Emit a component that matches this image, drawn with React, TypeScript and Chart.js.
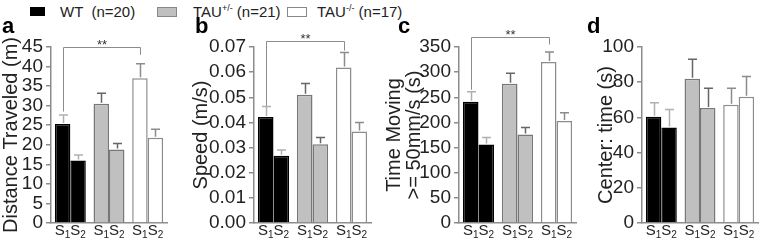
import React, { useEffect, useRef } from "react";
import { Chart, registerables } from "chart.js";
Chart.register(...registerables);

const FONT = "'Liberation Sans', Arial, Helvetica, sans-serif";

// ---- data ----
const groups = ["WT", "TAU+/-", "TAU-/-"];
const sessionSubs = ["1", "2"];

const distS1 = [25.3, 30.5, 37.0];
const distS2 = [16.0, 18.8, 21.8];
const distErrS1 = [2.3, 2.7, 3.7];
const distErrS2 = [1.4, 1.5, 2.2];

const speedS1 = [0.0422, 0.051, 0.0618];
const speedS2 = [0.0267, 0.0313, 0.0364];
const speedErrS1 = [0.0041, 0.0045, 0.006];
const speedErrS2 = [0.0023, 0.0027, 0.0036];

const timeS1 = [241, 277, 320];
const timeS2 = [156, 176, 203];
const timeErrS1 = [20, 21, 20];
const timeErrS2 = [14, 14, 16];

const centerS1 = [60.3, 82.0, 67.2];
const centerS2 = [54.3, 65.3, 71.7];
const centerErrS1 = [8.0, 11.0, 9.3];
const centerErrS2 = [10.2, 11.2, 11.6];

// significance brackets (data units: top line, left foot, right foot)
const distBracket = [45.1, 28.5, 43.0];
const speedBracket = [0.0725, 0.0466, 0.0686];
const timeBracket = [370, 265, 355];

const fillColors = ["#000000", "#c0c0c0", "#ffffff"];
const borderColors = ["#000000", "#777777", "#8c8c8c"];
const errColors = ["#b0b0b0", "#666666", "#8c8c8c"];

type PanelCfg = {
  left: number;
  axisX: number;
  plotRight: number;
  max: number;
  step: number;
  dec: number;
  title: string | string[];
  titlePad: number;
  s1: number[];
  s2: number[];
  e1: number[];
  e2: number[];
  bracket: number[] | null;
};

const panels: PanelCfg[] = [
  { left: 0, axisX: 51, plotRight: 167, max: 45, step: 5, dec: 0, title: "Distance Traveled (m)", titlePad: 1, s1: distS1, s2: distS2, e1: distErrS1, e2: distErrS2, bracket: distBracket },
  { left: 185, axisX: 254, plotRight: 371, max: 0.07, step: 0.01, dec: 2, title: "Speed (m/s)", titlePad: 6, s1: speedS1, s2: speedS2, e1: speedErrS1, e2: speedErrS2, bracket: speedBracket },
  { left: 375, axisX: 459, plotRight: 576, max: 350, step: 50, dec: 0, title: ["Time Moving", ">= 50mm/s (s)"], titlePad: 9, s1: timeS1, s2: timeS2, e1: timeErrS1, e2: timeErrS2, bracket: timeBracket },
  { left: 585, axisX: 642, plotRight: 758, max: 100, step: 20, dec: 0, title: "Center: time (s)", titlePad: 11, s1: centerS1, s2: centerS2, e1: centerErrS1, e2: centerErrS2, bracket: null },
];

const overlayPlugin = {
  id: "overlay",
  afterDatasetsDraw(chart: any, _args: any, opts: any) {
    const ctx = chart.ctx as CanvasRenderingContext2D;
    const ys = chart.scales.y;
    const xs = chart.scales.x;
    const errs: number[][] = opts.errors;
    ctx.save();
    // error bars
    chart.data.datasets.forEach((ds: any, di: number) => {
      const meta = chart.getDatasetMeta(di);
      meta.data.forEach((bar: any, i: number) => {
        const v = ds.data[i];
        const e = errs[di][i];
        const x = Math.round(bar.x) + 0.5;
        const yTop = ys.getPixelForValue(v);
        const yEnd = ys.getPixelForValue(v + e);
        ctx.strokeStyle = errColors[i];
        ctx.lineWidth = 1.5;
        ctx.beginPath();
        ctx.moveTo(x, yTop - 1);
        ctx.lineTo(x, yEnd);
        ctx.moveTo(x - 4.5, yEnd);
        ctx.lineTo(x + 4.5, yEnd);
        ctx.stroke();
      });
    });
    // x labels S1S2
    ctx.fillStyle = "#222";
    ctx.textBaseline = "alphabetic";
    groups.forEach((_g, i) => {
      const cx = xs.getPixelForValue(i);
      const big = `15px ${FONT}`;
      const small = `10px ${FONT}`;
      ctx.font = big;
      const wS = ctx.measureText("S").width;
      ctx.font = small;
      const wSub = sessionSubs.map((s) => ctx.measureText(s).width);
      const total = 2 * wS + wSub[0] + wSub[1];
      let x = cx - total / 2;
      sessionSubs.forEach((s, k) => {
        ctx.font = big;
        ctx.fillText("S", x, 235);
        x += wS;
        ctx.font = small;
        ctx.fillText(s, x, 238);
        x += wSub[k];
      });
    });
    // bracket
    const br = opts.bracket as number[] | null;
    if (br) {
      const m0 = chart.getDatasetMeta(0);
      const xl = Math.round(m0.data[0].x) + 0.5;
      const xr = Math.round(m0.data[2].x) + 0.5;
      const yt = Math.round(ys.getPixelForValue(br[0])) + 0.5;
      const yl = ys.getPixelForValue(br[1]);
      const yr = ys.getPixelForValue(br[2]);
      ctx.strokeStyle = "#8c8c8c";
      ctx.lineWidth = 1;
      ctx.beginPath();
      ctx.moveTo(xl, yl);
      ctx.lineTo(xl, yt);
      ctx.lineTo(xr, yt);
      ctx.lineTo(xr, yr);
      ctx.stroke();
      ctx.fillStyle = "#333";
      ctx.font = `13px ${FONT}`;
      ctx.textAlign = "center";
      ctx.fillText("**", (xl + xr) / 2, yt + 1);
    }
    ctx.restore();
  },
};

function Panel({ cfg }: { cfg: PanelCfg }) {
  const ref = useRef<HTMLCanvasElement>(null);
  const w = cfg.plotRight - cfg.left + 3;
  useEffect(() => {
    const chart = new Chart(ref.current as HTMLCanvasElement, {
      type: "bar",
      data: {
        labels: groups,
        datasets: [
          { label: "S1", data: cfg.s1, backgroundColor: fillColors, borderColor: borderColors, borderWidth: 1.5, categoryPercentage: 0.8, barPercentage: 1.0 },
          { label: "S2", data: cfg.s2, backgroundColor: fillColors, borderColor: borderColors, borderWidth: 1.5, categoryPercentage: 0.8, barPercentage: 1.0 },
        ],
      },
      options: {
        animation: false,
        responsive: false,
        devicePixelRatio: 1,
        layout: { padding: { top: 47, right: 3, left: 0, bottom: 0 } },
        plugins: {
          legend: { display: false },
          tooltip: { enabled: false },
          overlay: { errors: [cfg.e1, cfg.e2], bracket: cfg.bracket },
        } as any,
        scales: {
          x: {
            type: "category",
            offset: true,
            grid: { display: false },
            border: { display: true, color: "#8c8c8c", width: 1.5 },
            ticks: { display: false },
            afterFit: (s: any) => {
              s.height = 21;
            },
          },
          y: {
            min: 0,
            max: cfg.max,
            afterBuildTicks: (s: any) => {
              const t: any[] = [];
              const n = Math.round(cfg.max / cfg.step);
              for (let k = 0; k <= n; k++) t.push({ value: +(k * cfg.step).toFixed(6) });
              s.ticks = t;
            },
            ticks: {
              autoSkip: false,
              color: "#222",
              font: { size: 19, family: FONT },
              padding: 3,
              callback: (v: any) => Number(v).toFixed(cfg.dec),
            },
            grid: { drawOnChartArea: false, drawTicks: true, tickLength: 5, color: "#8c8c8c", lineWidth: 1.5 },
            border: { display: true, color: "#8c8c8c", width: 1.5 },
            title: {
              display: true,
              text: cfg.title,
              color: "#222",
              font: { size: 20, family: FONT, lineHeight: 1 },
              padding: { top: cfg.titlePad, bottom: 0 },
            },
            afterFit: (s: any) => {
              s.width = cfg.axisX - cfg.left;
            },
          },
        },
      },
      plugins: [overlayPlugin as any],
    });
    return () => chart.destroy();
  }, []);
  return (
    <canvas
      ref={ref}
      width={w}
      height={244}
      style={{ position: "absolute", left: cfg.left, top: 0, width: w, height: 244 }}
    />
  );
}

const letterStyle: React.CSSProperties = {
  position: "absolute",
  top: 15,
  fontFamily: FONT,
  fontWeight: "bold",
  fontSize: 22,
  lineHeight: "22px",
  color: "#000",
};

const legendText: React.CSSProperties = {
  position: "absolute",
  top: 3,
  fontFamily: FONT,
  fontSize: 15,
  lineHeight: "17px",
  color: "#222",
  whiteSpace: "pre",
};

export default function App() {
  return (
    <div
      style={{
        position: "fixed",
        left: 0,
        top: 0,
        width: 760,
        height: 244,
        background: "#fff",
        overflow: "hidden",
      }}
    >
      {/* legend */}
      <div style={{ position: "absolute", left: 30, top: 7, width: 15, height: 9, background: fillColors[0] }} />
      <div style={{ ...legendText, left: 60 }}>{"WT  (n=20)"}</div>
      <div style={{ position: "absolute", left: 157, top: 7, width: 18, height: 8, background: fillColors[1], border: "1px solid #888" }} />
      <div style={{ ...legendText, left: 193 }}>
        TAU<sup style={{ fontSize: 9, verticalAlign: "6px", lineHeight: 0 }}>+/-</sup> (n=21)
      </div>
      <div style={{ position: "absolute", left: 287, top: 7, width: 18, height: 8, background: fillColors[2], border: "1px solid #888" }} />
      <div style={{ ...legendText, left: 317 }}>
        TAU<sup style={{ fontSize: 9, verticalAlign: "6px", lineHeight: 0 }}>-/-</sup> (n=17)
      </div>
      {panels.map((p, i) => (
        <Panel key={i} cfg={p} />
      ))}
      <div style={{ ...letterStyle, left: 2 }}>a</div>
      <div style={{ ...letterStyle, left: 195 }}>b</div>
      <div style={{ ...letterStyle, left: 398 }}>c</div>
      <div style={{ ...letterStyle, left: 587 }}>d</div>
    </div>
  );
}
